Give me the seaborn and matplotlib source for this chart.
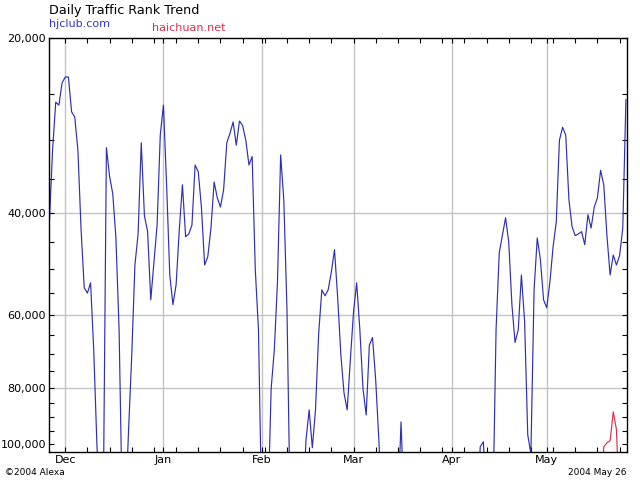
import matplotlib
matplotlib.use('Agg')
import matplotlib.pyplot as plt
import matplotlib.dates as mdates
import matplotlib.ticker as mticker
import numpy as np
import pandas as pd
import seaborn as sns

# daily Alexa traffic rank, 2003-11-26 .. 2004-05-26
# OFF = rank worse than the chart's lower edge (drawn off the bottom)
OFF = 130000
start_day = '2003-11-26'
hjclub = [
    41500, 31200, 25800, 26100, 23900, 23350, 23350, 26800, 27350, 31200,
    42800, 53900, 55000, 52800, 69000, 100400, OFF, OFF, 30900, 34600,
    37100, 44200, 63600, OFF, OFF, 94500, 70200, 49200, 43500, 30300,
    40500, 43100, 56500, 48600, 42000, 29400, 26100, 35800, 51200, 57600,
    53200, 42800, 35800, 44000, 43500, 42000, 33100, 34000, 39200, 49200,
    47600, 42500, 35400, 37700, 39100, 36500, 30300, 29200, 27900, 30600,
    27800, 28300, 30000, 33100, 32000, 50200, 63600, OFF, OFF, OFF,
    80400, 68900, 52600, 31800, 38000, 58800, OFF, OFF, OFF, OFF,
    OFF, 98400, 87400, 101600, 87400, 64600, 54300, 55600, 54300, 50600,
    46300, 56000, 70200, 81700, 87400, 71700, 59300, 52800, 63600, 80400,
    89200, 67600, 65600, 77600, 98400, OFF, OFF, OFF, OFF, OFF,
    OFF, 91700, OFF, OFF, OFF, OFF, OFF, OFF, OFF, OFF,
    OFF, OFF, OFF, OFF, OFF, OFF, OFF, OFF, OFF, OFF,
    OFF, OFF, OFF, OFF, OFF, OFF, 101200, 99200, OFF, OFF,
    OFF, 63600, 46900, 43700, 40800, 44900, 57600, 66900, 63600, 51200,
    61400, 96500, 104000, 54300, 44200, 48200, 56500, 58300, 52600, 45800,
    41500, 30000, 28500, 29400, 38000, 42300, 43800, 43500, 43100, 45400,
    40300, 42500, 39100, 37700, 33800, 35800, 43800, 51200, 47300, 49200,
    47400, 42500, 25500,
]
assert len(hjclub) == 183

haichuan_dates = ['2004-05-18', '2004-05-19', '2004-05-20', '2004-05-21',
                  '2004-05-22', '2004-05-23', '2004-05-24']
haichuan = [OFF, 101200, 99600, 98800, 88100, 94500, OFF]

y_major = [20000, 40000, 60000, 80000, 100000]
y_grid = [40000, 60000, 80000]

blue = '#2f2fb0'
red = '#d9304a'

sns.set_theme(style='white')
plt.rcParams['font.family'] = ['DejaVu Sans']

dates = pd.date_range(start_day, periods=len(hjclub), freq='D')
hdates = pd.to_datetime(haichuan_dates)

fig = plt.figure(figsize=(6.4, 4.8), dpi=100)
fig.patch.set_facecolor('white')
ax = fig.add_axes([49 / 640, 28 / 480, 578 / 640, 414 / 480])

months = pd.date_range('2003-12-01', '2004-05-01', freq='MS')
for m in months:
    ax.axvline(m, color='#c4c4c4', lw=1, zorder=0)
for g in y_grid:
    ax.axhline(g, color='#c4c4c4', lw=1, zorder=0)

sns.lineplot(x=dates, y=hjclub, color=blue, linewidth=0.85, ax=ax)
sns.lineplot(x=hdates, y=haichuan, color=red, linewidth=0.85, ax=ax)

ax.set_yscale('log')
ax.set_ylim(103300, 20000)
ax.set_xlim(dates[0] - pd.Timedelta(hours=3), dates[-1] + pd.Timedelta(hours=8))

ax.yaxis.set_major_locator(mticker.FixedLocator(y_major))
ax.yaxis.set_major_formatter(mticker.FuncFormatter(lambda v, p: f'{v:,.0f}'))
ax.yaxis.set_minor_locator(mticker.FixedLocator(
    [v for v in range(25000, 100000, 5000) if v % 20000]))
ax.yaxis.set_minor_formatter(mticker.NullFormatter())

ax.xaxis.set_major_locator(mdates.MonthLocator())
ax.xaxis.set_major_formatter(mdates.DateFormatter('%b'))
ax.xaxis.set_minor_locator(mdates.WeekdayLocator(byweekday=mdates.MO))

ax.tick_params(axis='both', which='both', direction='in',
               top=True, right=True, bottom=True, left=True,
               labeltop=False, labelright=False, labelbottom=True, labelleft=True,
               length=3.5, width=0.8, color='black', labelsize=8,
               labelcolor='black', pad=2)
ax.grid(False)
for s in ax.spines.values():
    s.set_color('black')
    s.set_linewidth(1)
ax.set_xlabel('')
ax.set_ylabel('')

fig.text(49 / 640, 1 - 14 / 480, 'Daily Traffic Rank Trend', fontsize=9.2,
         color='black', va='baseline', ha='left')
fig.text(49 / 640, 1 - 27 / 480, 'hjclub.com', fontsize=8, color='#3535c8',
         va='baseline', ha='left')
fig.text(152 / 640, 1 - 31 / 480, 'haichuan.net', fontsize=8, color='#d9304a',
         va='baseline', ha='left')
fig.text(5 / 640, 1 - 475 / 480, '\u00a92004 Alexa', fontsize=6.5,
         color='black', va='baseline', ha='left')
fig.text(626 / 640, 1 - 475 / 480, '2004 May 26', fontsize=6.5,
         color='black', va='baseline', ha='right')

fig.savefig('out.png', dpi=100, facecolor='white')
